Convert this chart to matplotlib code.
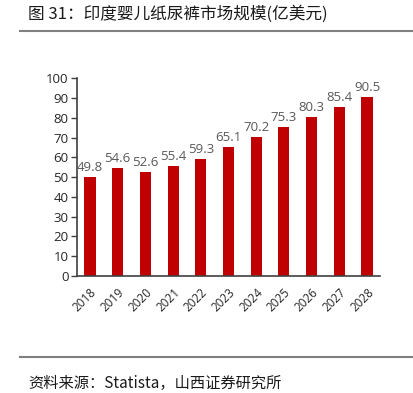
import matplotlib
matplotlib.use("Agg")
import matplotlib.pyplot as plt
from matplotlib.lines import Line2D

plt.rcParams["font.family"] = ["Noto Sans CJK SC", "DejaVu Sans"]

years = ["2018", "2019", "2020", "2021", "2022", "2023",
         "2024", "2025", "2026", "2027", "2028"]
values = [49.8, 54.6, 52.6, 55.4, 59.3, 65.1, 70.2, 75.3, 80.3, 85.4, 90.5]
y_ticks = [0, 10, 20, 30, 40, 50, 60, 70, 80, 90, 100]

title = "图 31：印度婴儿纸尿裤市场规模(亿美元)"
source = "资料来源：Statista，山西证券研究所"

fig = plt.figure(figsize=(4.14, 3.93), dpi=100)
ax = fig.add_axes([0.186, 0.298, 0.732, 0.503])

x = list(range(len(years)))
ax.bar(x, values, width=0.4, color="#C00000")
for xi, v in zip(x, values):
    ax.text(xi, v + 1.5, f"{v}", ha="center", va="bottom",
            fontsize=9.5, color="#595959", family=["Open Sans", "DejaVu Sans"])

ax.set_xlim(-0.47, len(years) - 0.53)
ax.set_ylim(0, 100)
ax.set_yticks(y_ticks)
ax.set_yticklabels([str(t) for t in y_ticks], fontsize=9.5,
                   family=["Open Sans", "DejaVu Sans"], color="#262626")
ax.set_xticks(x)
ax.set_xticklabels(years, rotation=45, ha="right", rotation_mode="anchor",
                   fontsize=8.5, family=["Open Sans", "DejaVu Sans"], color="#262626")
ax.tick_params(axis="x", length=0, pad=7)
ax.tick_params(axis="y", length=4, width=1, color="#404040", pad=2)
for s in ["top", "right"]:
    ax.spines[s].set_visible(False)
for s in ["left", "bottom"]:
    ax.spines[s].set_color("#404040")
    ax.spines[s].set_linewidth(1.2)

fig.text(28 / 414, 1 - 14 / 393, title, ha="left", va="center",
         fontsize=12, color="#1a1a1a")
fig.add_artist(Line2D([20 / 414, 412 / 414], [1 - 31 / 393, 1 - 31 / 393],
                      color="#808080", linewidth=1.5))
fig.add_artist(Line2D([20 / 414, 412 / 414], [1 - 357 / 393, 1 - 357 / 393],
                      color="#808080", linewidth=1.5))
fig.text(28 / 414, 1 - 383 / 393, source, ha="left", va="center",
         fontsize=11, color="#1a1a1a")

fig.savefig("out.png", dpi=100)
